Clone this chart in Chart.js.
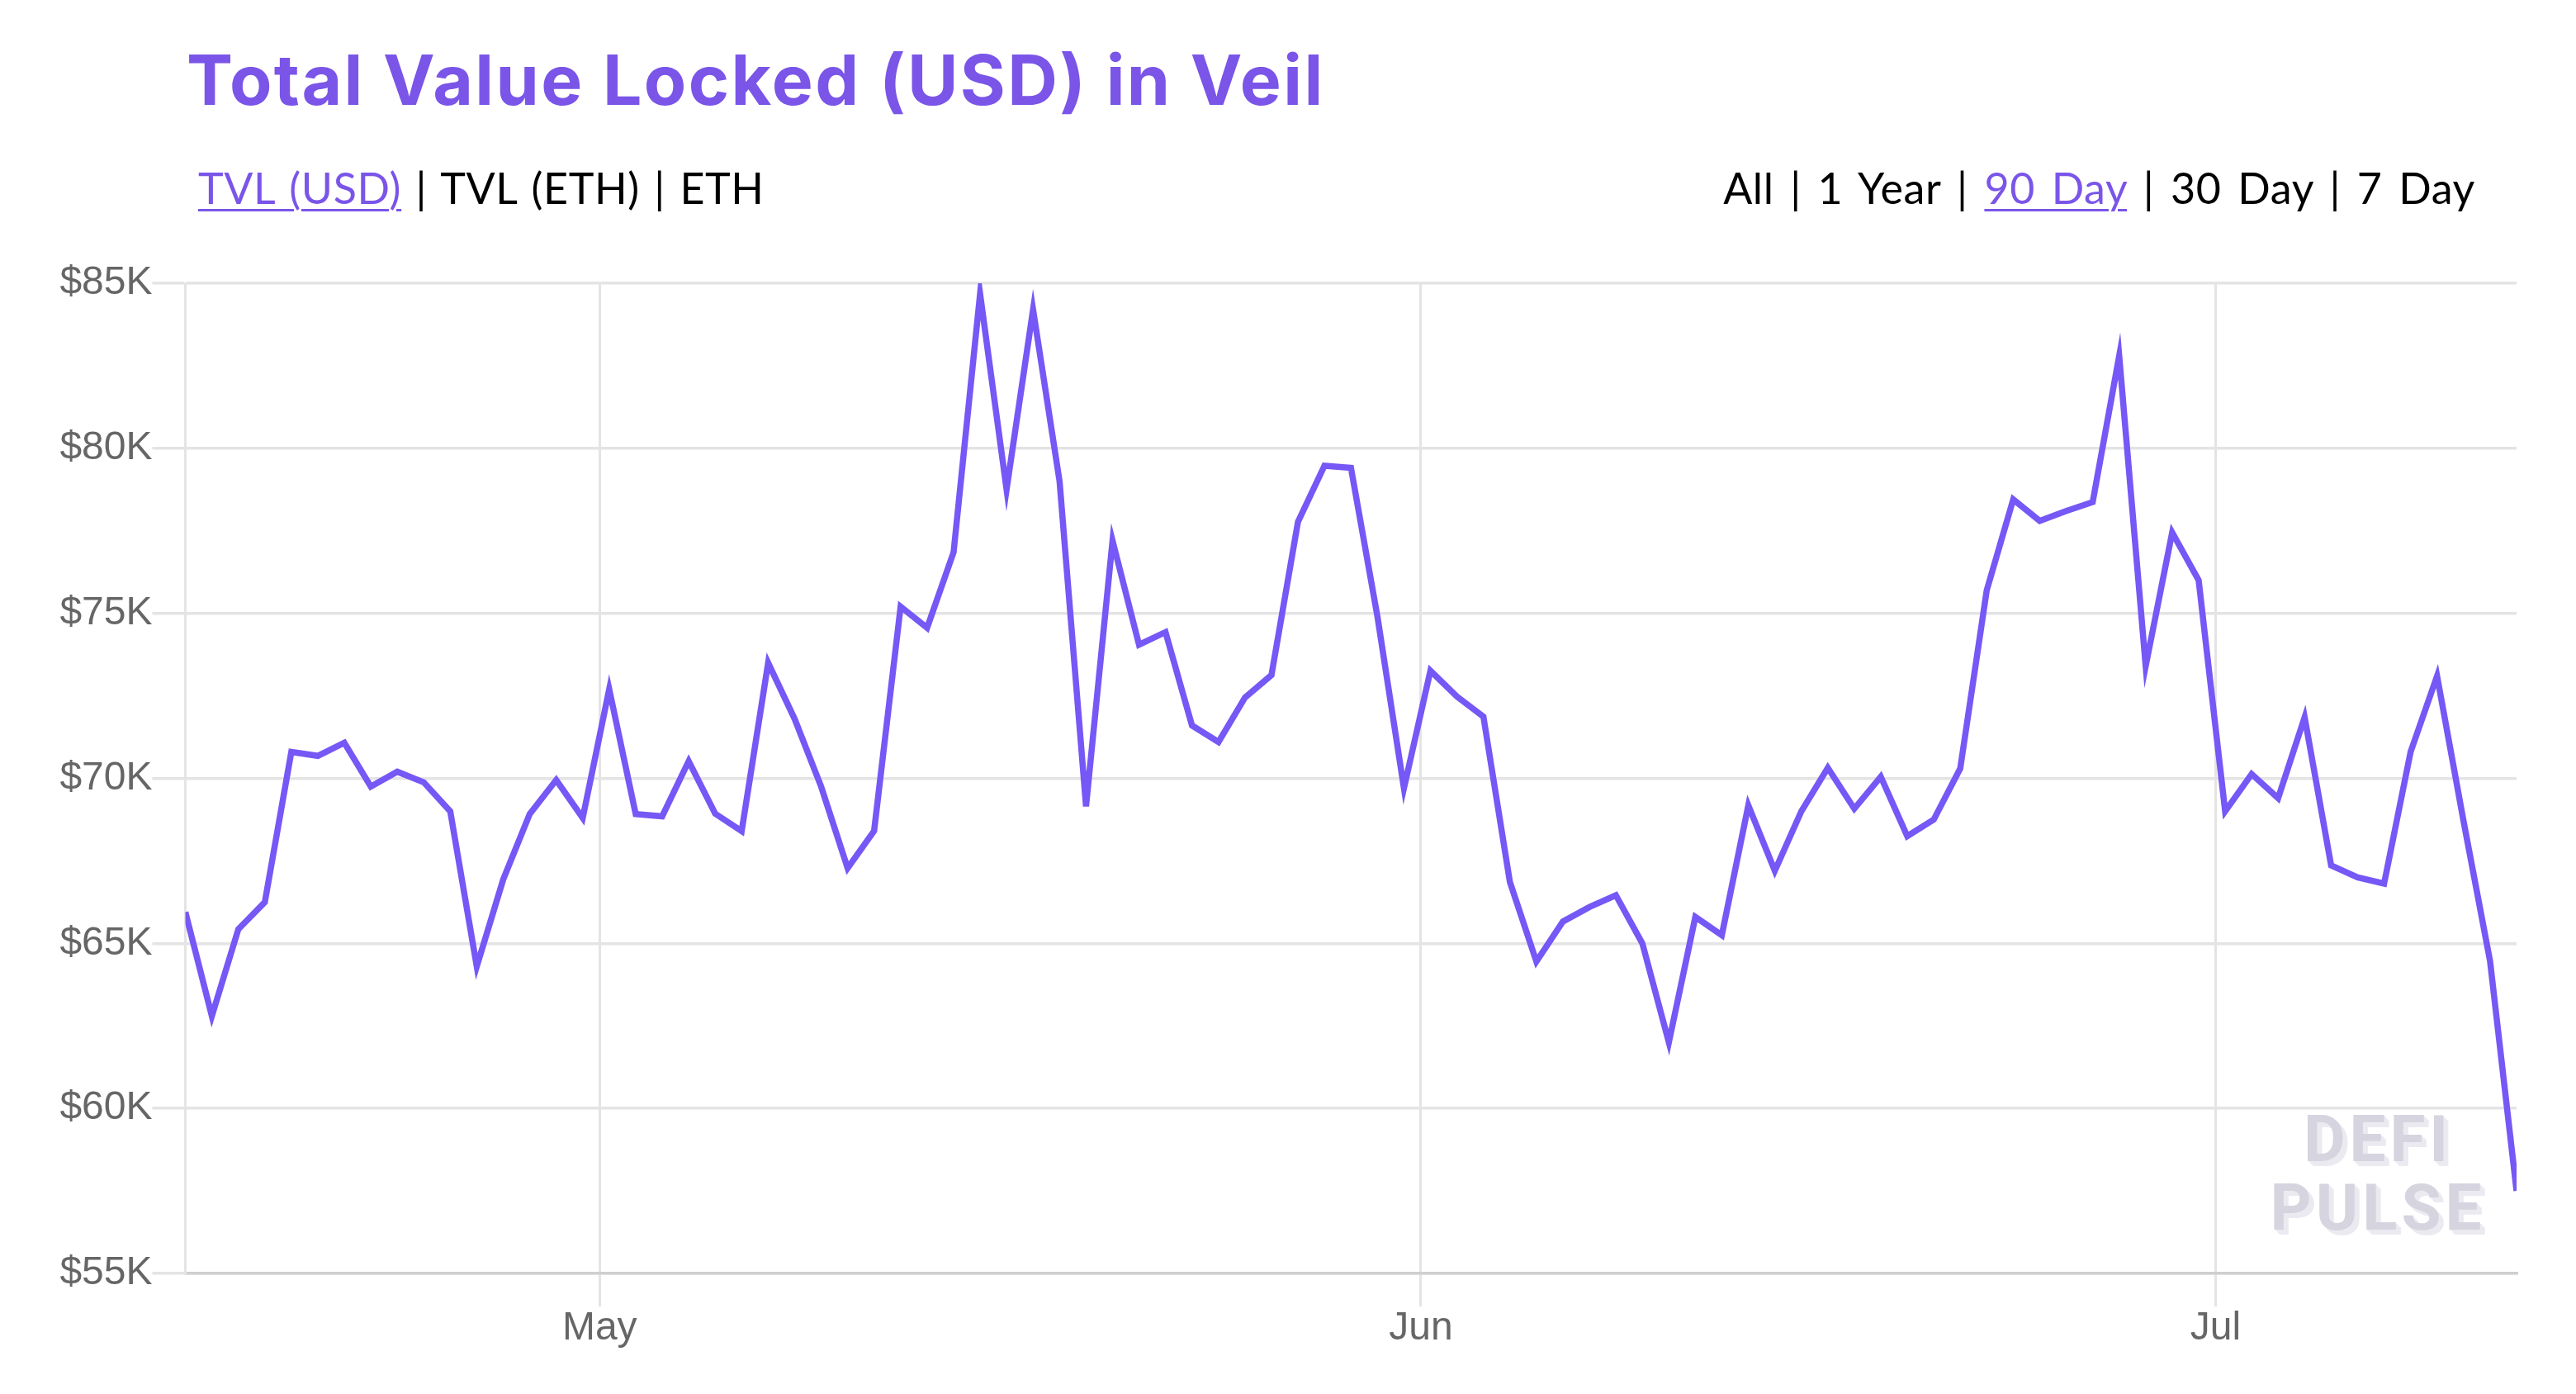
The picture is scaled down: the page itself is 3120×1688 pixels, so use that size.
<!DOCTYPE html>
<html>
<head>
<meta charset="utf-8">
<title>Total Value Locked (USD) in Veil</title>
<script src="https://cdn.jsdelivr.net/npm/chart.js"></script>
<style>
  html, body { margin: 0; padding: 0; background: #fff; }
  body { width: 3120px; height: 1688px; position: relative; overflow: hidden; }
  canvas { position: absolute; left: 0; top: 0; }
  .title { position: absolute; left: 226px; top: 46px; margin: 0; font: 700 84px Inter, sans-serif; letter-spacing: 2.4px; color: #7a55e8; white-space: nowrap; }
  .nav { position: absolute; top: 196px; font: 400 52px Lato, sans-serif; letter-spacing: 0.6px; color: #000; white-space: nowrap; }
  .nav a { color: #7a55e8; text-decoration: underline; text-decoration-thickness: 3px; text-underline-offset: 6px; }
  .nav-left { left: 240px; word-spacing: 3.6px; }
  .nav-right { right: 122px; word-spacing: 5.8px; }
  .mark { position: absolute; left: 2700px; width: 360px; top: 1338px; text-align: center; font: 700 78px/83px Roboto, sans-serif; color: #d6d4df;
          text-shadow: 2px 2px 0 #eceaf1, 4px 4px 0 #eceaf1, 6px 6px 0 #eceaf1; letter-spacing: 5px; }
</style>
</head>
<body>
<h1 class="title">Total Value Locked (USD) in Veil</h1>
<div class="nav nav-left"><a>TVL (USD)</a> | TVL (ETH) | ETH</div>
<div class="nav nav-right">All | 1 Year | <a>90 Day</a> | 30 Day | 7 Day</div>
<canvas id="chart" width="3120" height="1688"></canvas>
<div class="mark">DEFI<br>PULSE</div>
<script>
// one reading a day
const dates = [
  '04-15','04-16','04-17','04-18','04-19','04-20','04-21','04-22','04-23','04-24','04-25','04-26','04-27','04-28','04-29','04-30',
  '05-01','05-02','05-03','05-04','05-05','05-06','05-07','05-08','05-09','05-10','05-11','05-12','05-13','05-14','05-15','05-16',
  '05-17','05-18','05-19','05-20','05-21','05-22','05-23','05-24','05-25','05-26','05-27','05-28','05-29','05-30','05-31',
  '06-01','06-02','06-03','06-04','06-05','06-06','06-07','06-08','06-09','06-10','06-11','06-12','06-13','06-14','06-15','06-16',
  '06-17','06-18','06-19','06-20','06-21','06-22','06-23','06-24','06-25','06-26','06-27','06-28','06-29','06-30',
  '07-01','07-02','07-03','07-04','07-05','07-06','07-07','07-08','07-09','07-10','07-11','07-12'
];
const tvlUsd = [
  65950, 62800, 65430, 66250, 70800, 70680, 71080, 69750, 70200, 69880, 69000, 64300, 66940, 68920, 69950, 68800,
  72700, 68920, 68850, 70520, 68930, 68400, 73500, 71800, 69750, 67280, 68410, 75200, 74560, 76850, 84680, 78750,
  84200, 79000, 69150, 77200, 74050, 74430, 71600, 71100, 72450, 73130, 77770, 79470, 79410, 74900, 69700,
  73260, 72480, 71870, 66860, 64450, 65660, 66100, 66460, 65000, 62000, 65800, 65250, 69180, 67200, 69000, 70320,
  69080, 70050, 68250, 68750, 70300, 75700, 78450, 77800, 78100, 78370, 82800, 73400, 77450, 76000,
  69000, 70130, 69400, 71850, 67360, 67000, 66810, 70800, 73100, 68700, 64460, 57500
];
const yTicks = [55000, 60000, 65000, 70000, 75000, 80000, 85000];
const monthDates = ['05-01', '06-01', '07-01'];
const monthLabels = ['May', 'Jun', 'Jul'];

const readingTime = d => Date.parse('2020-' + d + 'T08:40:00Z');
const monthTime = d => Date.parse('2020-' + d + 'T00:00:00Z');

const gridColor = '#e4e4e4';
const axisColor = '#cfcfcf';
const tickFont = { family: '"Liberation Sans", sans-serif', size: 48 };

new Chart(document.getElementById('chart').getContext('2d'), {
  type: 'line',
  data: {
    datasets: [{
      data: dates.map((d, i) => ({ x: readingTime(d), y: tvlUsd[i] })),
      borderColor: '#7558f5',
      borderWidth: 7.5,
      pointRadius: 0,
      tension: 0,
      fill: false
    }]
  },
  options: {
    responsive: false,
    animation: false,
    devicePixelRatio: 1,
    layout: { padding: { top: 343, right: 72 } },
    plugins: { legend: { display: false }, tooltip: { enabled: false } },
    scales: {
      x: {
        type: 'linear',
        min: readingTime(dates[0]),
        max: readingTime(dates[dates.length - 1]),
        afterBuildTicks: scale => { scale.ticks = monthDates.map(d => ({ value: monthTime(d) })); },
        afterFit: scale => { scale.height = 146; },
        grid: { color: gridColor, lineWidth: 3, tickLength: 40 },
        border: { display: true, color: axisColor, width: 3.5 },
        ticks: {
          callback: (value, i) => monthLabels[i],
          autoSkip: false, maxRotation: 0, padding: -2,
          color: '#666', font: tickFont
        }
      },
      y: {
        min: yTicks[0],
        max: yTicks[yTicks.length - 1],
        afterBuildTicks: scale => { scale.ticks = yTicks.map(v => ({ value: v })); },
        afterFit: scale => { scale.width = 224.5; },
        grid: { color: gridColor, lineWidth: 3.5, tickLength: 40 },
        border: { display: true, color: gridColor, width: 3 },
        ticks: {
          callback: v => '$' + v / 1000 + 'K',
          padding: 0,
          color: '#666', font: tickFont
        }
      }
    }
  }
});
</script>
</body>
</html>
